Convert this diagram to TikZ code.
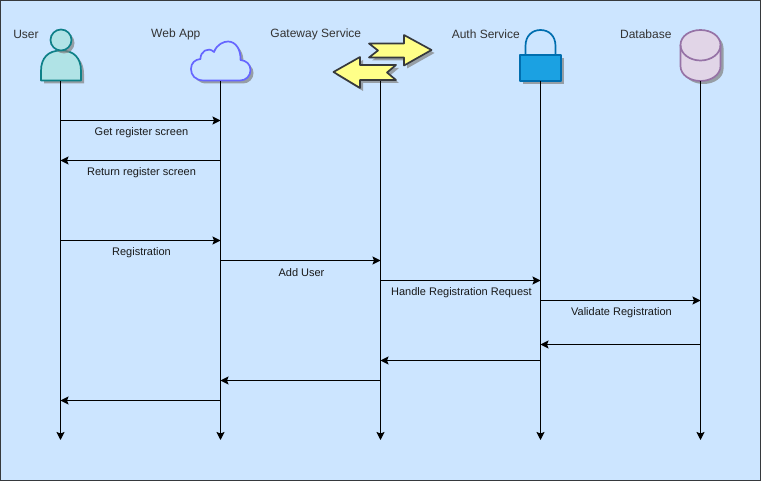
\documentclass[tikz,border=0pt]{standalone}
\usepackage{fontspec}
\setmainfont{Liberation Sans}
\usepackage{xcolor}
\usepackage{tikz}
\usetikzlibrary{arrows.meta,shadows}
\definecolor{bgblue}{HTML}{CCE5FF}
\definecolor{edgegray}{HTML}{36393D}
\definecolor{swapyellow}{HTML}{FFFF88}
\tikzstyle{coord} = [coordinate]
\tikzstyle{connector} = [-{Stealth[length=8pt,width=8pt,inset=1.5pt]},line width=1pt]
\tikzstyle{title} = [inner sep=0pt, font=\fontsize{12}{14}\selectfont, text=black!80]
\tikzstyle{msg} = [midway, inner sep=0pt, xshift=1pt, yshift=-11.8pt, font=\fontsize{11}{13}\selectfont, text=black!90]
\tikzstyle{icon} = [line width=1.7pt, line join=round,
    drop shadow={shadow xshift=3pt, shadow yshift=-3pt, opacity=0.7, fill=black!50}]
\tikzstyle{swap} = [icon, draw=edgegray, fill=swapyellow]

\begin{document}
\begin{tikzpicture}[x=1pt, y=-1pt]
    \useasboundingbox (0,0) rectangle (761,481);
    \draw [fill=bgblue, draw=edgegray, line width=1.2pt] (0.8,0.8) rectangle (760.2,480.2);

    % icons
    \draw [icon, draw={rgb,255:red,14;green,128;blue,136}, fill={rgb,255:red,176;green,227;blue,230}]
        (41,80.5) -- (41,71) .. controls (41,58) and (48,50.5) .. (61,50.5)
        .. controls (74,50.5) and (81,58) .. (81,71) -- (81,80.5) -- cycle;
    \draw [icon, draw={rgb,255:red,14;green,128;blue,136}, fill={rgb,255:red,176;green,227;blue,230}]
        (61,40) circle [radius=10.5];
    \draw [icon, draw={rgb,255:red,102;green,102;blue,255}, fill=bgblue]
        (204,80.5) .. controls (195,80.5) and (191,75) .. (191,69)
        .. controls (191,63) and (195,59.5) .. (200.5,59)
        .. controls (200,52) and (208,46) .. (214,52)
        .. controls (217,44) and (224,41.5) .. (228,41.5)
        .. controls (236,41.5) and (241,50) .. (240.5,60)
        .. controls (246,60.5) and (250.5,64) .. (250.5,70)
        .. controls (250.5,76) and (246,80.5) .. (240,80.5) -- cycle;
    \draw [swap] (369,43.5) -- (404,43.5) -- (404,35) -- (431.5,50) -- (404,65.5) -- (404,57.5)
        -- (369,57.5) -- (378,50.5) -- cycle;
    \draw [swap] (333.5,72) -- (360,57) -- (360,65) -- (396,65) -- (387,72.5) -- (396,80)
        -- (360,80) -- (360,88) -- cycle;
    \draw [icon, draw={rgb,255:red,0;green,110;blue,175}, fill={rgb,255:red,27;green,161;blue,226}]
        (520,55) rectangle (561,81);
    \draw [line width=1.7pt, draw={rgb,255:red,0;green,110;blue,175}]
        (525.5,55) -- (525.5,46) .. controls (525.5,36) and (532,30) .. (540.5,30)
        .. controls (549,30) and (555.5,36) .. (555.5,46) -- (555.5,55);
    \draw [icon, draw={rgb,255:red,150;green,115;blue,166}, fill={rgb,255:red,225;green,213;blue,231}]
        (680.5,45) .. controls (680.5,36) and (690,30) .. (700.5,30)
        .. controls (711,30) and (720.5,36) .. (720.5,45) -- (720.5,66)
        .. controls (720.5,75) and (711,81) .. (700.5,81)
        .. controls (690,81) and (680.5,75) .. (680.5,66) -- cycle;
    \draw [line width=1.7pt, draw={rgb,255:red,150;green,115;blue,166}]
        (680.5,45) .. controls (680.5,54) and (690,60.5) .. (700.5,60.5)
        .. controls (711,60.5) and (720.5,54) .. (720.5,45);

    % titles
    \node (userTitle) [title] at (26,34.6) {User};
    \node (webTitle) [title] at (175.8,34.6) {Web App};
    \node (gateTitle) [title] at (315.8,34.6) {Gateway Service};
    \node (authTitle) [title] at (485.8,34.6) {Auth Service};
    \node (dbTitle) [title] at (645.8,34.6) {Database};

    % lifelines
    \node (userTop) [coord] at (60.5,81) {};
    \node (userEnd) [coord] at (60.5,440) {};
    \node (webTop) [coord] at (220.5,81) {};
    \node (webEnd) [coord] at (220.5,440) {};
    \node (gateTop) [coord] at (380.5,81) {};
    \node (gateEnd) [coord] at (380.5,440) {};
    \node (authTop) [coord] at (540.5,81) {};
    \node (authEnd) [coord] at (540.5,440) {};
    \node (dbTop) [coord] at (700.5,81) {};
    \node (dbEnd) [coord] at (700.5,440) {};
    \draw [connector] (userTop) -- (userEnd);
    \draw [connector] (webTop) -- (webEnd);
    \draw [connector] (gateTop) -- (gateEnd);
    \draw [connector] (authTop) -- (authEnd);
    \draw [connector] (dbTop) -- (dbEnd);

    % messages
    \node (getUser) [coord] at (60.5,120.5) {};
    \node (getWeb) [coord] at (220.5,120.5) {};
    \node (retUser) [coord] at (60.5,160.5) {};
    \node (retWeb) [coord] at (220.5,160.5) {};
    \node (regUser) [coord] at (60.5,240.5) {};
    \node (regWeb) [coord] at (220.5,240.5) {};
    \node (addWeb) [coord] at (220.5,260.5) {};
    \node (addGate) [coord] at (380.5,260.5) {};
    \node (handleGate) [coord] at (380.5,280.5) {};
    \node (handleAuth) [coord] at (540.5,280.5) {};
    \node (validAuth) [coord] at (540.5,300.5) {};
    \node (validDb) [coord] at (700.5,300.5) {};
    \node (backDb) [coord] at (700.5,344.5) {};
    \node (backAuth) [coord] at (540.5,344.5) {};
    \node (backAuthB) [coord] at (540.5,360.5) {};
    \node (backGate) [coord] at (380.5,360.5) {};
    \node (backGateB) [coord] at (380.5,380.5) {};
    \node (backWeb) [coord] at (220.5,380.5) {};
    \node (backWebB) [coord] at (220.5,400.5) {};
    \node (backUser) [coord] at (60.5,400.5) {};

    \draw [connector] (getUser) -- node (getLabel) [msg] {Get register screen} (getWeb);
    \draw [connector] (retWeb) -- node (retLabel) [msg] {Return register screen} (retUser);
    \draw [connector] (regUser) -- node (regLabel) [msg] {Registration} (regWeb);
    \draw [connector] (addWeb) -- node (addLabel) [msg] {Add User} (addGate);
    \draw [connector] (handleGate) -- node (handleLabel) [msg] {Handle Registration Request} (handleAuth);
    \draw [connector] (validAuth) -- node (validLabel) [msg] {Validate Registration} (validDb);
    \draw [connector] (backDb) -- (backAuth);
    \draw [connector] (backAuthB) -- (backGate);
    \draw [connector] (backGateB) -- (backWeb);
    \draw [connector] (backWebB) -- (backUser);
\end{tikzpicture}
\end{document}
